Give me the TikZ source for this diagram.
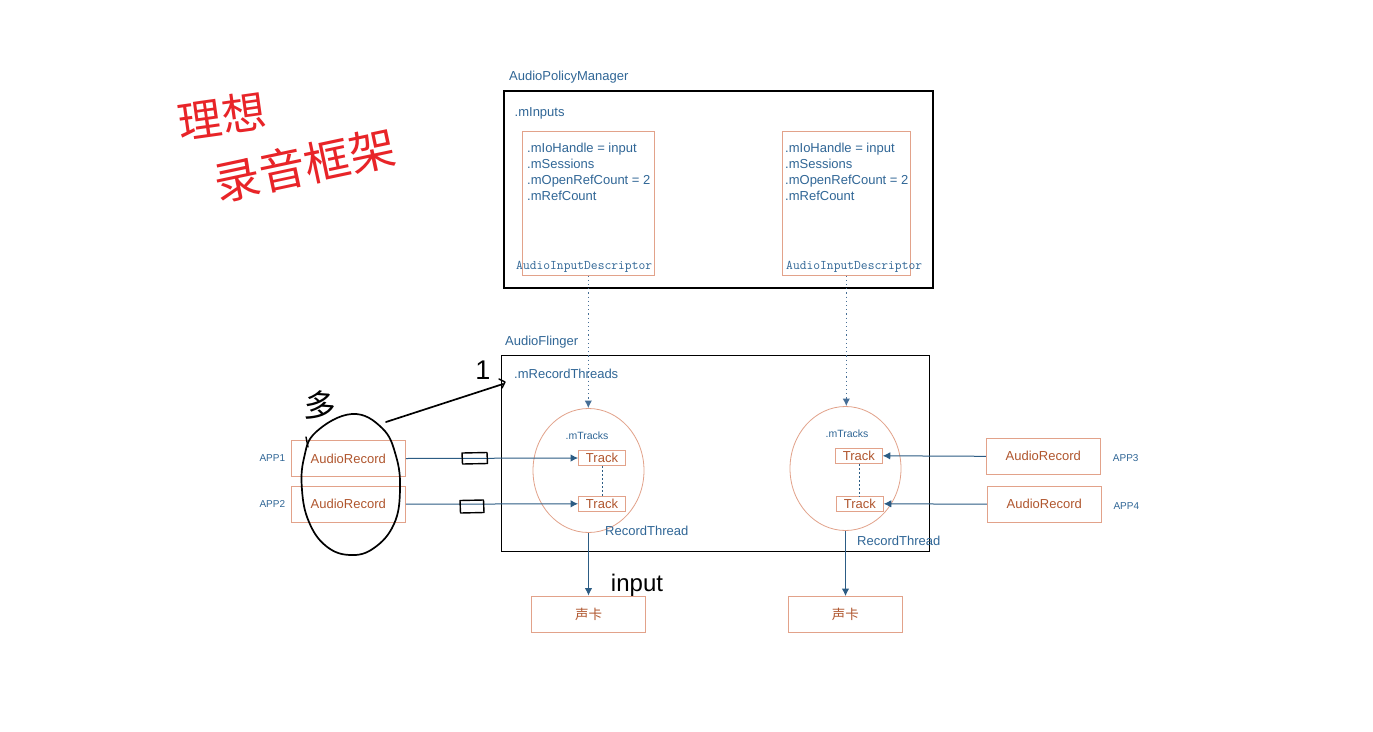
\documentclass[tikz,border=0pt]{standalone}
\usepackage{fontspec}
\setmainfont{Liberation Sans}
\newfontfamily\cjk{Noto Sans CJK SC}
\usetikzlibrary{arrows.meta,shapes.geometric}
\definecolor{tblue}{RGB}{48,102,150}
\definecolor{abl}{RGB}{44,92,132}
\definecolor{dbl}{RGB}{70,110,150}
\definecolor{salmon}{RGB}{226,162,138}
\definecolor{rtxt}{RGB}{176,86,46}
\definecolor{hred}{RGB}{232,36,40}
\begin{document}
\begin{tikzpicture}[x=1pt,y=-1pt,
  lbl/.style={text=tblue,inner sep=0pt,anchor=base west,font=\fontsize{13}{13}\selectfont},
  small/.style={text=tblue,inner sep=0pt,anchor=base west,font=\fontsize{10}{10}\selectfont},
  mono/.style={text=tblue,inner sep=0pt,anchor=base west,font=\ttfamily\fontsize{13.2}{13.2}\selectfont},
  bigbox/.style={draw=black,line width=1.2pt,inner sep=0pt},
  sbox/.style={draw=salmon,line width=0.9pt,inner sep=0pt},
  recbox/.style={draw=salmon,line width=0.9pt,inner sep=0pt,text=rtxt,font=\fontsize{13}{13}\selectfont,minimum width=114pt,minimum height=36pt},
  trackbox/.style={draw=salmon,line width=0.9pt,inner sep=0pt,text=rtxt,font=\fontsize{13}{13}\selectfont,minimum width=47pt,minimum height=15pt},
  thread/.style={draw=salmon,line width=0.8pt,ellipse,inner sep=0pt,minimum width=111pt,minimum height=124pt},
  cardbox/.style={draw=salmon,line width=0.9pt,inner sep=0pt,text=rtxt,font=\cjk\fontsize{13.5}{13.5}\selectfont,minimum width=114pt,minimum height=36pt},
  arr/.style={draw=abl,line width=1pt,-{Latex[length=7.5pt,width=7.5pt]}},
  dotarr/.style={draw=dbl,line width=1.2pt,dash pattern=on 1.2pt off 3pt,-{Latex[length=7.5pt,width=7.5pt]}},
  dashline/.style={draw=abl,line width=0.9pt,dash pattern=on 2pt off 2pt},
  hand/.style={draw=black,line width=1.7pt,line cap=round,line join=round},
]
\useasboundingbox (0,0) rectangle (1373,731);
\fill[white] (0,0) rectangle (1373,731);

% ---------- AudioPolicyManager ----------
\node[lbl] (apmlbl) at (509,80.5) {AudioPolicyManager};
\node[bigbox,minimum width=429pt,minimum height=197pt] (apm) at (718.5,189.5) {};
\node[lbl] (minputs) at (514.5,116) {.mInputs};

\node[sbox,minimum width=132pt,minimum height=144pt] (d1) at (588.3,203.2) {};
\node[sbox,minimum width=128pt,minimum height=144pt] (d2) at (846.3,203.2) {};

\node[lbl] (d1a) at (527,152.5) {.mIoHandle = input};
\node[lbl] (d1b) at (527,168.5) {.mSessions};
\node[lbl] (d1c) at (527,184.5) {.mOpenRefCount = 2};
\node[lbl] (d1d) at (527,200.5) {.mRefCount};
\node[mono] (d1e) at (516,269.5) {AudioInputDescriptor};

\node[lbl] (d2a) at (785,152.5) {.mIoHandle = input};
\node[lbl] (d2b) at (785,168.5) {.mSessions};
\node[lbl] (d2c) at (785,184.5) {.mOpenRefCount = 2};
\node[lbl] (d2d) at (785,200.5) {.mRefCount};
\node[mono] (d2e) at (786,269.5) {AudioInputDescriptor};

% ---------- AudioFlinger ----------
\node[lbl] (aflbl) at (505,345.5) {AudioFlinger};
\node[bigbox,minimum width=428pt,minimum height=196pt] (af) at (715.5,453.8) {};
\node[lbl] (mrt) at (514,378.5) {.mRecordThreads};

\node[thread] (lc) at (588.5,470.5) {};
\node[thread] (rc) at (845.5,468.5) {};

\node[small,anchor=base,font=\fontsize{10.5}{10.5}\selectfont] (lmt) at (587,439.5) {.mTracks};
\node[small,anchor=base,font=\fontsize{10.5}{10.5}\selectfont] (rmt) at (847,437.5) {.mTracks};

\node[trackbox] (t1) at (602,458) {Track};
\node[trackbox] (t2) at (602,503.8) {Track};
\node[trackbox] (t3) at (858.8,455.8) {Track};
\node[trackbox] (t4) at (859.8,503.8) {Track};

\node[lbl] (lrt) at (605,535.7) {RecordThread};
\node[lbl] (rrt) at (857,545) {RecordThread};

% ---------- AudioRecords ----------
\node[recbox] (ar1) at (348.3,458.5) {AudioRecord};
\node[recbox] (ar2) at (348.3,504.2) {AudioRecord};
\node[recbox] (ar3) at (1043.3,456.3) {AudioRecord};
\node[recbox] (ar4) at (1044.3,504.2) {AudioRecord};

\node[small] (app1) at (259.3,461.7) {APP1};
\node[small] (app2) at (259.3,507.7) {APP2};
\node[small] (app3) at (1112.7,461.7) {APP3};
\node[small] (app4) at (1113.3,509.3) {APP4};

% ---------- sound cards ----------
\node[cardbox] (sc1) at (588.5,614) {声卡};
\node[cardbox] (sc2) at (845.3,614.5) {声卡};

% ---------- connectors ----------
\draw[dotarr] (d1.south) -- (d1.south |- lc.north);
\draw[dotarr] (d2.south) -- (d2.south |- rc.north);
\draw[dashline] (t1.south) -- (t2.north);
\draw[dashline] (t3.south -| t4.north) -- (t4.north);
\draw[arr] (ar1.east) -- (t1.west);
\draw[arr] (ar2.east) -- (t2.west);
\draw[arr] (ar3.west) -- (t3.east);
\draw[arr] (ar4.west) -- (t4.east);
\draw[arr] (lc.south) -- (sc1.north);
\draw[arr] (rc.south) -- (rc.south |- sc2.north);

% ---------- handwritten annotations ----------
\node[text=hred,rotate=8,font=\cjk\fontsize{44}{44}\selectfont,inner sep=0pt] (h1) at (222,116) {理想};
\node[text=hred,rotate=12,font=\cjk\fontsize{46}{46}\selectfont,inner sep=0pt] (h2) at (305,165) {录音框架};

\draw[hand] plot[smooth cycle,tension=0.7] coordinates {
  (352,414) (382,428) (396,456) (400,490) (394,524) (374,548) (350,555)
  (326,546) (309,522) (302,490) (304,458) (316,432)};
\draw[hand,line width=1.4pt] (308,447) -- (306,437);

\node[font=\cjk\fontsize{32}{32}\selectfont,rotate=-4,inner sep=0pt] (duo) at (320,405) {多};
\node[font=\fontsize{27}{27}\selectfont,inner sep=0pt] (one) at (483,370) {1};
\node[font=\fontsize{24}{24}\selectfont,inner sep=0pt] (inp) at (637,585) {input};

\coordinate (hs) at (386,422);
\coordinate (he) at (503,384);
\draw[hand] (hs) -- (he);
\draw[hand,line width=1.4pt] (499,379) -- (505,382) -- (502,388);

\draw[hand,line width=1.4pt] (462,453) -- (487,452.5) -- (487.5,463.5) -- (462.5,464) -- cycle;
\draw[hand,line width=1.4pt] (460,500.5) -- (483.5,500) -- (484,512.5) -- (460.5,513) -- cycle;

\end{tikzpicture}
\end{document}
